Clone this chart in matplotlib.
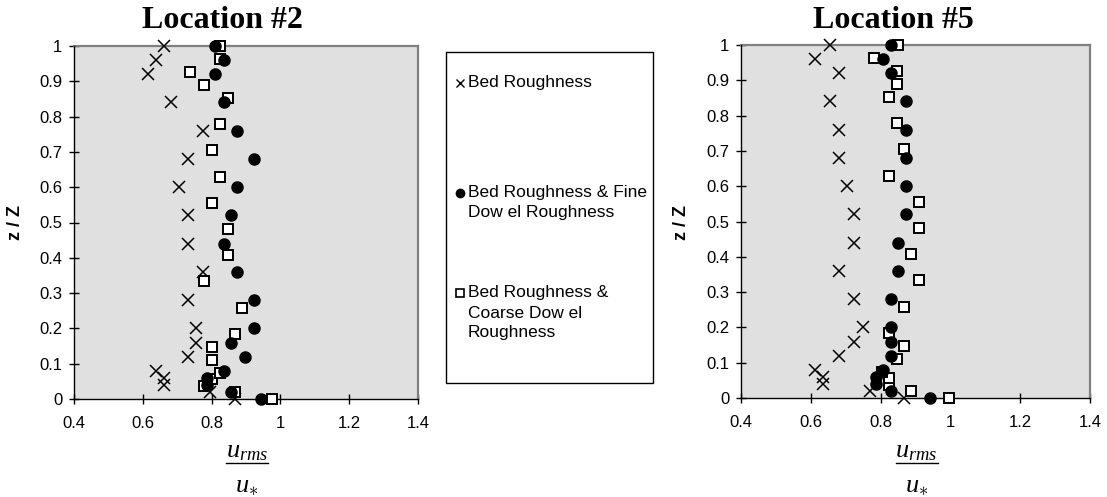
import matplotlib
matplotlib.use("Agg")
import matplotlib.pyplot as plt
from matplotlib.lines import Line2D
from matplotlib.patches import Rectangle

W, H = 1107, 497

# ---------------- data ----------------
z_dense = [0.0, 0.02, 0.04, 0.06, 0.08, 0.12, 0.16, 0.20, 0.28, 0.36, 0.44,
           0.52, 0.60, 0.68, 0.76, 0.84, 0.92, 0.96, 1.0]
z_coarse = [0.0, 0.019, 0.037, 0.056, 0.074, 0.111, 0.148, 0.185, 0.259, 0.333,
            0.407, 0.481, 0.556, 0.630, 0.704, 0.778, 0.852, 0.889, 0.926, 0.963, 1.0]

loc2_bed = [0.867, 0.796, 0.661, 0.661, 0.637, 0.730, 0.755, 0.755, 0.730, 0.774,
            0.730, 0.730, 0.706, 0.730, 0.774, 0.683, 0.614, 0.637, 0.661]
loc2_fine = [0.944, 0.856, 0.788, 0.788, 0.835, 0.898, 0.856, 0.922, 0.922, 0.873,
             0.835, 0.856, 0.873, 0.922, 0.873, 0.835, 0.811, 0.835, 0.811]
loc2_coarse = [0.976, 0.867, 0.779, 0.802, 0.825, 0.802, 0.802, 0.867, 0.889, 0.779,
               0.849, 0.849, 0.802, 0.825, 0.802, 0.825, 0.849, 0.779, 0.738, 0.825, 0.825]

loc5_bed = [0.866, 0.770, 0.635, 0.635, 0.613, 0.680, 0.725, 0.749, 0.725, 0.680,
            0.725, 0.725, 0.703, 0.680, 0.680, 0.656, 0.680, 0.613, 0.656]
loc5_fine = [0.942, 0.829, 0.787, 0.787, 0.808, 0.829, 0.829, 0.829, 0.829, 0.851,
             0.851, 0.873, 0.873, 0.873, 0.873, 0.873, 0.829, 0.808, 0.829]
loc5_coarse = [0.996, 0.888, 0.825, 0.825, 0.804, 0.847, 0.866, 0.825, 0.866, 0.911,
               0.888, 0.911, 0.911, 0.825, 0.866, 0.847, 0.825, 0.847, 0.847, 0.780, 0.849]

titles = ["Location #2", "Location #5"]
series_labels = ["Bed Roughness", "Bed Roughness & Fine\nDow el Roughness",
                 "Bed Roughness &\nCoarse Dow el\nRoughness"]
x_ticks = [0.4, 0.6, 0.8, 1.0, 1.2, 1.4]
x_ticklabels = ["0.4", "0.6", "0.8", "1", "1.2", "1.4"]
y_ticks = [0, 0.1, 0.2, 0.3, 0.4, 0.5, 0.6, 0.7, 0.8, 0.9, 1.0]
y_ticklabels = ["0", "0.1", "0.2", "0.3", "0.4", "0.5", "0.6", "0.7", "0.8", "0.9", "1"]

# ---------------- style ----------------
plt.rcParams['font.family'] = ['Liberation Sans', 'DejaVu Sans']
plt.rcParams['mathtext.fontset'] = 'custom'
plt.rcParams['mathtext.rm'] = 'Liberation Serif'
plt.rcParams['mathtext.it'] = 'Liberation Serif:italic'
plt.rcParams['mathtext.bf'] = 'Liberation Serif:bold'

fig = plt.figure(figsize=(W / 100, H / 100), dpi=100)
fig.patch.set_facecolor('white')


def fx(x):
    return x / W


def fy(y):
    return 1 - y / H


def make_axes(left, right, top, bottom):
    return fig.add_axes([fx(left), fy(bottom), (right - left) / W, (bottom - top) / H])


panels = [
    dict(box=(74, 418, 46, 399), title_x=222, ylab_x=16,
         bed=loc2_bed, fine=loc2_fine, coarse=loc2_coarse),
    dict(box=(741, 1090, 45, 398), title_x=893, ylab_x=682,
         bed=loc5_bed, fine=loc5_fine, coarse=loc5_coarse),
]

for p, title in zip(panels, titles):
    l, r, t, b = p['box']
    ax = make_axes(l, r, t, b)
    ax.set_facecolor('#e0e0e0')
    ax.set_xlim(0.4, 1.4)
    ax.set_ylim(0, 1)
    ax.set_xticks(x_ticks)
    ax.set_xticklabels(x_ticklabels)
    ax.set_yticks(y_ticks)
    ax.set_yticklabels(y_ticklabels)
    ax.tick_params(axis='both', direction='inout', length=7, width=1,
                   color='black', labelsize=12)
    ax.tick_params(axis='x', pad=9)
    ax.tick_params(axis='y', pad=5)
    for s in ['left', 'bottom']:
        ax.spines[s].set_color('black')
        ax.spines[s].set_linewidth(1.0)
        ax.spines[s].set_zorder(5)
    for s in ['top', 'right']:
        ax.spines[s].set_color('#808080')
        ax.spines[s].set_linewidth(1.6)

    ax.plot(p['bed'], z_dense, linestyle='none', marker='x', markersize=8,
            markeredgewidth=1.1, color='black', clip_on=False, zorder=6)
    ax.plot(p['coarse'], z_coarse, linestyle='none', marker='s', markersize=7,
            markerfacecolor='white', markeredgecolor='black', markeredgewidth=1.4,
            clip_on=False, zorder=6)
    ax.plot(p['fine'], z_dense, linestyle='none', marker='o', markersize=8,
            markerfacecolor='black', markeredgecolor='black', clip_on=False, zorder=7)

    # title
    fig.text(fx(p['title_x']), fy(28), title, ha='center', va='baseline',
             fontsize=23, fontweight='bold', family='Liberation Serif')
    # y label
    fig.text(fx(p['ylab_x']), fy(222), "z / Z", rotation=90, ha='center', va='center',
             fontsize=13, fontweight='bold')
    # x label: fraction u_rms / u_*
    cx = (l + r) / 2 + 1
    fig.text(fx(cx), fy(457), r'$u_{rms}$', ha='center', va='baseline', fontsize=19)
    fig.add_artist(Line2D([fx(cx - 21), fx(cx + 21)], [fy(463), fy(463)],
                          color='black', linewidth=1.0, transform=fig.transFigure))
    fig.text(fx(cx), fy(492), r'$u_{\ast}$', ha='center', va='baseline', fontsize=19)

# ---------------- legend box ----------------
fig.add_artist(Rectangle((fx(446), fy(383)), (653 - 446) / W, (383 - 52) / H,
                         transform=fig.transFigure, facecolor='white',
                         edgecolor='black', linewidth=1.0))
leg_markers = [
    dict(marker='x', mfc='black', mew=1.0, ms=6),
    dict(marker='o', mfc='black', mew=1.0, ms=6),
    dict(marker='s', mfc='white', mew=1.2, ms=6),
]
leg_y = [83, 193, 293]
for lab, m, y in zip(series_labels, leg_markers, leg_y):
    fig.add_artist(Line2D([fx(460)], [fy(y)], linestyle='none', marker=m['marker'],
                          markersize=m['ms'], markerfacecolor=m['mfc'],
                          markeredgecolor='black', markeredgewidth=m['mew'],
                          transform=fig.transFigure))
    for i, ln in enumerate(lab.split('\n')):
        fig.text(fx(468), fy(y + 20 * i), ln, ha='left', va='center', fontsize=12.5)

fig.savefig('out.png', dpi=100, facecolor='white')
